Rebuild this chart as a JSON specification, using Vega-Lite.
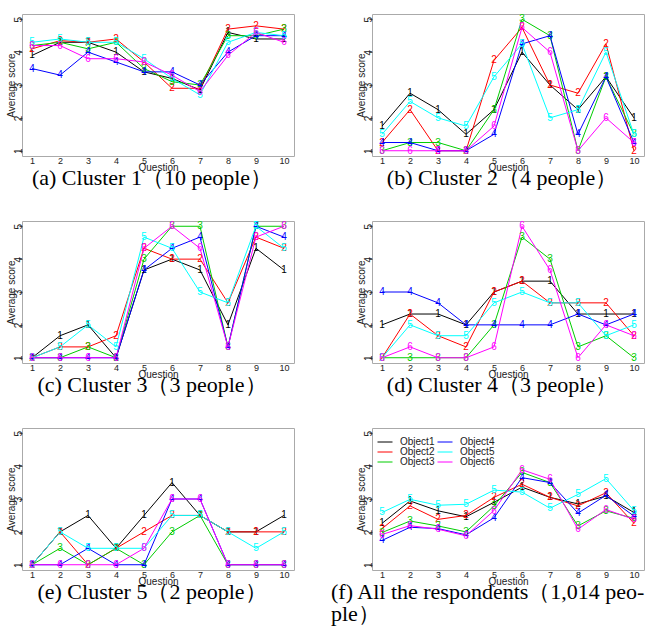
{
  "$schema": "https://vega.github.io/schema/vega-lite/v6.json",
  "padding": {"left": 5, "top": 13, "right": 0, "bottom": 0},
  "background": "white",
  "data": {"values": [
    {"p":"a","q":1,"1":3.9,"2":4.1,"3":4.2,"4":3.5,"5":4.3,"6":4.2},
    {"p":"a","q":2,"1":4.3,"2":4.35,"3":4.3,"4":3.3,"5":4.4,"6":4.2},
    {"p":"a","q":3,"1":4.3,"2":4.3,"3":4.1,"4":4.0,"5":4.3,"6":3.8},
    {"p":"a","q":4,"1":4.0,"2":4.4,"3":4.3,"4":3.7,"5":4.3,"6":3.8},
    {"p":"a","q":5,"1":3.4,"2":3.7,"3":3.5,"4":3.4,"5":3.8,"6":3.7},
    {"p":"a","q":6,"1":3.2,"2":2.9,"3":3.1,"4":3.4,"5":3.2,"6":3.3},
    {"p":"a","q":7,"1":2.85,"2":2.9,"3":3.0,"4":3.0,"5":2.7,"6":2.8},
    {"p":"a","q":8,"1":4.6,"2":4.7,"3":4.5,"4":4.0,"5":4.3,"6":3.9},
    {"p":"a","q":9,"1":4.4,"2":4.8,"3":4.5,"4":4.5,"5":4.6,"6":4.6},
    {"p":"a","q":10,"1":4.4,"2":4.7,"3":4.7,"4":4.5,"5":4.5,"6":4.3},
    {"p":"b","q":1,"1":1.75,"2":1.25,"3":1.0,"4":1.25,"5":1.5,"6":1.0},
    {"p":"b","q":2,"1":2.75,"2":2.25,"3":1.25,"4":1.25,"5":2.5,"6":1.0},
    {"p":"b","q":3,"1":2.25,"2":1.0,"3":1.25,"4":1.0,"5":2.0,"6":1.0},
    {"p":"b","q":4,"1":1.5,"2":1.0,"3":1.0,"4":1.0,"5":1.75,"6":1.0},
    {"p":"b","q":5,"1":2.25,"2":3.75,"3":2.25,"4":1.5,"5":3.25,"6":1.75},
    {"p":"b","q":6,"1":4.0,"2":4.75,"3":5.0,"4":4.25,"5":4.25,"6":4.75},
    {"p":"b","q":7,"1":3.0,"2":3.0,"3":4.5,"4":4.5,"5":2.0,"6":4.0},
    {"p":"b","q":8,"1":2.25,"2":2.75,"3":1.0,"4":1.5,"5":2.25,"6":1.0},
    {"p":"b","q":9,"1":3.25,"2":4.25,"3":3.25,"4":3.25,"5":4.0,"6":2.0},
    {"p":"b","q":10,"1":2.0,"2":1.0,"3":1.5,"4":1.25,"5":1.5,"6":1.25},
    {"p":"c","q":1,"1":1,"2":1,"3":1,"4":1,"5":1,"6":1},
    {"p":"c","q":2,"1":1.67,"2":1.33,"3":1,"4":1,"5":1.33,"6":1},
    {"p":"c","q":3,"1":2.0,"2":1.33,"3":1.33,"4":1,"5":2.0,"6":1},
    {"p":"c","q":4,"1":1.0,"2":1.67,"3":1.0,"4":1,"5":1.33,"6":1},
    {"p":"c","q":5,"1":3.67,"2":4.33,"3":4.0,"4":3.67,"5":4.67,"6":4.33},
    {"p":"c","q":6,"1":4.0,"2":4.0,"3":5.0,"4":4.33,"5":4.33,"6":5.0},
    {"p":"c","q":7,"1":3.67,"2":4.0,"3":5.0,"4":4.67,"5":3.0,"6":4.33},
    {"p":"c","q":8,"1":2.0,"2":2.67,"3":1.33,"4":1.33,"5":2.67,"6":1.33},
    {"p":"c","q":9,"1":4.33,"2":4.67,"3":5.0,"4":5.0,"5":5.0,"6":4.67},
    {"p":"c","q":10,"1":3.67,"2":4.33,"3":5.0,"4":4.67,"5":4.33,"6":5.0},
    {"p":"d","q":1,"1":2.0,"2":1.0,"3":1.0,"4":3.0,"5":1.0,"6":1.0},
    {"p":"d","q":2,"1":2.33,"2":2.33,"3":1.0,"4":3.0,"5":2.0,"6":1.33},
    {"p":"d","q":3,"1":2.33,"2":1.67,"3":1.0,"4":2.67,"5":1.67,"6":1.0},
    {"p":"d","q":4,"1":2.0,"2":1.33,"3":1.0,"4":2.0,"5":1.67,"6":1.0},
    {"p":"d","q":5,"1":3.0,"2":3.0,"3":2.0,"4":2.0,"5":2.67,"6":1.33},
    {"p":"d","q":6,"1":3.33,"2":3.33,"3":4.67,"4":2.0,"5":3.0,"6":5.0},
    {"p":"d","q":7,"1":3.33,"2":2.67,"3":4.0,"4":2.0,"5":2.67,"6":3.67},
    {"p":"d","q":8,"1":2.33,"2":2.67,"3":1.33,"4":2.33,"5":2.67,"6":1.0},
    {"p":"d","q":9,"1":2.33,"2":2.67,"3":1.67,"4":2.0,"5":1.67,"6":2.0},
    {"p":"d","q":10,"1":2.33,"2":1.67,"3":1.0,"4":2.33,"5":2.0,"6":1.67},
    {"p":"e","q":1,"1":1,"2":1,"3":1,"4":1,"5":1,"6":1},
    {"p":"e","q":2,"1":2.0,"2":2.0,"3":1.5,"4":1.0,"5":2.0,"6":1.0},
    {"p":"e","q":3,"1":2.5,"2":1.0,"3":1.0,"4":1.5,"5":1.5,"6":1.0},
    {"p":"e","q":4,"1":1.5,"2":1.5,"3":1.5,"4":1.0,"5":1.5,"6":1.0},
    {"p":"e","q":5,"1":2.5,"2":2.0,"3":1.0,"4":1.0,"5":1.5,"6":1.5},
    {"p":"e","q":6,"1":3.5,"2":2.5,"3":2.0,"4":3.0,"5":2.5,"6":3.0},
    {"p":"e","q":7,"1":2.5,"2":2.5,"3":2.5,"4":3.0,"5":2.5,"6":3.0},
    {"p":"e","q":8,"1":2.0,"2":2.0,"3":1.0,"4":1.0,"5":2.0,"6":1.0},
    {"p":"e","q":9,"1":2.0,"2":2.0,"3":1.0,"4":1.0,"5":1.5,"6":1.0},
    {"p":"e","q":10,"1":2.5,"2":2.0,"3":1.0,"4":1.0,"5":2.0,"6":1.0},
    {"p":"f","q":1,"1":2.26,"2":2.1,"3":1.98,"4":1.74,"5":2.59,"6":1.92},
    {"p":"f","q":2,"1":2.94,"2":2.79,"3":2.33,"4":2.14,"5":2.99,"6":2.19},
    {"p":"f","q":3,"1":2.64,"2":2.38,"3":2.18,"4":2.1,"5":2.81,"6":2.08},
    {"p":"f","q":4,"1":2.46,"2":2.5,"3":2.0,"4":1.91,"5":2.84,"6":1.88},
    {"p":"f","q":5,"1":2.9,"2":3.05,"3":2.79,"4":2.43,"5":3.27,"6":2.65},
    {"p":"f","q":6,"1":3.36,"2":3.45,"3":3.81,"4":3.65,"5":3.21,"6":3.89},
    {"p":"f","q":7,"1":3.05,"2":3.05,"3":3.5,"4":3.5,"5":2.72,"6":3.6},
    {"p":"f","q":8,"1":2.85,"2":2.79,"3":2.18,"4":2.57,"5":3.14,"6":2.08},
    {"p":"f","q":9,"1":3.09,"2":3.19,"3":2.64,"4":3.11,"5":3.62,"6":2.68},
    {"p":"f","q":10,"1":2.59,"2":2.26,"3":2.41,"4":2.48,"5":2.65,"6":2.38}
  ]},
  "transform": [{"fold": ["1","2","3","4","5","6"], "as": ["k","v"]}],
  "columns": 2,
  "spacing": {"row": 30, "column": 35},
  "resolve": {"legend": {"color": "independent"}},
  "concat": [
    {
      "width": 272, "height": 142,
      "title": {"text": "(a) Cluster 1（10 people）", "dx": -6},
      "transform": [{"filter": "datum.p == 'a'"}],
      "encoding": {
        "x": {"field": "q", "type": "quantitative", "scale": {"domain": [0.64, 10.36], "nice": false, "zero": false}, "axis": {"values": [1,2,3,4,5,6,7,8,9,10], "title": "Question"}},
        "y": {"field": "v", "type": "quantitative", "scale": {"domain": [0.84, 5.16], "nice": false, "zero": false}, "axis": {"values": [1,2,3,4,5], "title": "Average score"}},
        "color": {"field": "k", "type": "nominal", "scale": {"domain": ["1","2","3","4","5","6"], "range": ["#000000","#FF0000","#00CD00","#0000FF","#00FFFF","#FF00FF"]}, "legend": null}
      },
      "layer": [
        {"mark": {"type": "line", "strokeWidth": 1}},
        {"mark": {"type": "text", "fontSize": 10, "font": "Liberation Sans"}, "encoding": {"text": {"field": "k"}}}
      ]
    },
    {
      "width": 272, "height": 142,
      "title": {"text": "(b) Cluster 2（4 people）", "dx": -6},
      "transform": [{"filter": "datum.p == 'b'"}],
      "encoding": {
        "x": {"field": "q", "type": "quantitative", "scale": {"domain": [0.64, 10.36], "nice": false, "zero": false}, "axis": {"values": [1,2,3,4,5,6,7,8,9,10], "title": "Question"}},
        "y": {"field": "v", "type": "quantitative", "scale": {"domain": [0.84, 5.16], "nice": false, "zero": false}, "axis": {"values": [1,2,3,4,5], "title": "Average score"}},
        "color": {"field": "k", "type": "nominal", "scale": {"domain": ["1","2","3","4","5","6"], "range": ["#000000","#FF0000","#00CD00","#0000FF","#00FFFF","#FF00FF"]}, "legend": null}
      },
      "layer": [
        {"mark": {"type": "line", "strokeWidth": 1}},
        {"mark": {"type": "text", "fontSize": 10, "font": "Liberation Sans"}, "encoding": {"text": {"field": "k"}}}
      ]
    },
    {
      "width": 272, "height": 142,
      "title": {"text": "(c) Cluster 3（3 people）", "dx": -6},
      "transform": [{"filter": "datum.p == 'c'"}],
      "encoding": {
        "x": {"field": "q", "type": "quantitative", "scale": {"domain": [0.64, 10.36], "nice": false, "zero": false}, "axis": {"values": [1,2,3,4,5,6,7,8,9,10], "title": "Question"}},
        "y": {"field": "v", "type": "quantitative", "scale": {"domain": [0.84, 5.16], "nice": false, "zero": false}, "axis": {"values": [1,2,3,4,5], "title": "Average score"}},
        "color": {"field": "k", "type": "nominal", "scale": {"domain": ["1","2","3","4","5","6"], "range": ["#000000","#FF0000","#00CD00","#0000FF","#00FFFF","#FF00FF"]}, "legend": null}
      },
      "layer": [
        {"mark": {"type": "line", "strokeWidth": 1}},
        {"mark": {"type": "text", "fontSize": 10, "font": "Liberation Sans"}, "encoding": {"text": {"field": "k"}}}
      ]
    },
    {
      "width": 272, "height": 142,
      "title": {"text": "(d) Cluster 4（3 people）", "dx": -6},
      "transform": [{"filter": "datum.p == 'd'"}],
      "encoding": {
        "x": {"field": "q", "type": "quantitative", "scale": {"domain": [0.64, 10.36], "nice": false, "zero": false}, "axis": {"values": [1,2,3,4,5,6,7,8,9,10], "title": "Question"}},
        "y": {"field": "v", "type": "quantitative", "scale": {"domain": [0.84, 5.16], "nice": false, "zero": false}, "axis": {"values": [1,2,3,4,5], "title": "Average score"}},
        "color": {"field": "k", "type": "nominal", "scale": {"domain": ["1","2","3","4","5","6"], "range": ["#000000","#FF0000","#00CD00","#0000FF","#00FFFF","#FF00FF"]}, "legend": null}
      },
      "layer": [
        {"mark": {"type": "line", "strokeWidth": 1}},
        {"mark": {"type": "text", "fontSize": 10, "font": "Liberation Sans"}, "encoding": {"text": {"field": "k"}}}
      ]
    },
    {
      "width": 272, "height": 142,
      "title": {"text": "(e) Cluster 5（2 people）", "dx": -6},
      "transform": [{"filter": "datum.p == 'e'"}],
      "encoding": {
        "x": {"field": "q", "type": "quantitative", "scale": {"domain": [0.64, 10.36], "nice": false, "zero": false}, "axis": {"values": [1,2,3,4,5,6,7,8,9,10], "title": "Question"}},
        "y": {"field": "v", "type": "quantitative", "scale": {"domain": [0.84, 5.16], "nice": false, "zero": false}, "axis": {"values": [1,2,3,4,5], "title": "Average score"}},
        "color": {"field": "k", "type": "nominal", "scale": {"domain": ["1","2","3","4","5","6"], "range": ["#000000","#FF0000","#00CD00","#0000FF","#00FFFF","#FF00FF"]}, "legend": null}
      },
      "layer": [
        {"mark": {"type": "line", "strokeWidth": 1}},
        {"mark": {"type": "text", "fontSize": 10, "font": "Liberation Sans"}, "encoding": {"text": {"field": "k"}}}
      ]
    },
    {
      "width": 272, "height": 142,
      "title": {"text": ["(f) All the respondents（1,014 peo-", "ple）"], "anchor": "start", "dx": -41, "lineHeight": 22},
      "transform": [{"filter": "datum.p == 'f'"}],
      "encoding": {
        "x": {"field": "q", "type": "quantitative", "scale": {"domain": [0.64, 10.36], "nice": false, "zero": false}, "axis": {"values": [1,2,3,4,5,6,7,8,9,10], "title": "Question"}},
        "y": {"field": "v", "type": "quantitative", "scale": {"domain": [0.84, 5.16], "nice": false, "zero": false}, "axis": {"values": [1,2,3,4,5], "title": "Average score"}},
        "color": {"field": "k", "type": "nominal", "scale": {"domain": ["1","2","3","4","5","6"], "range": ["#000000","#FF0000","#00CD00","#0000FF","#00FFFF","#FF00FF"]},
          "legend": {"orient": "none", "legendX": 8, "legendY": 9, "columns": 2, "title": null, "symbolType": "M-2.5,0H2.5", "symbolSize": 36, "symbolStrokeWidth": 1, "labelExpr": "'Object' + datum.label", "labelFont": "Liberation Sans", "labelFontSize": 10, "labelOffset": 10, "rowPadding": 0, "columnPadding": 0, "padding": 0, "symbolOffset": 0}}
      },
      "layer": [
        {"mark": {"type": "line", "strokeWidth": 1}},
        {"mark": {"type": "text", "fontSize": 10, "font": "Liberation Sans"}, "encoding": {"text": {"field": "k"}}}
      ]
    }
  ],
  "config": {
    "view": {"stroke": "#aaaaaa", "strokeWidth": 1},
    "axis": {"domain": false, "grid": false, "labelFont": "Liberation Sans", "labelFontSize": 9, "labelColor": "#222", "titleFont": "Liberation Sans", "titleFontSize": 10, "titleFontWeight": "normal", "titleColor": "#222", "tickColor": "#555", "tickSize": 3},
    "axisX": {"ticks": false, "labelPadding": 0, "titlePadding": -3},
    "axisY": {"labelAngle": -90, "labelPadding": 1, "labelFontSize": 10, "titlePadding": -3, "labelBaseline": "middle"},
    "title": {"orient": "bottom", "frame": "group", "font": "Liberation Serif", "fontSize": 22, "fontWeight": "normal", "color": "#000", "offset": -4},
    "legend": {"labelColor": "#222"}
  }
}
